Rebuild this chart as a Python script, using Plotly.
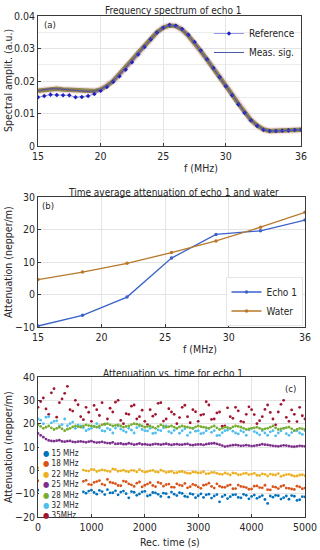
import plotly.graph_objects as go

# ---------------- Panel (a): frequency spectrum ----------------
freq_a = [15, 15.5, 16, 16.5, 17, 17.5, 18, 18.5, 19, 19.5, 20, 20.5, 21, 21.5, 22,
          22.5, 23, 23.5, 24, 24.5, 25, 25.5, 26, 26.5, 27, 27.5, 28, 28.5, 29, 29.5,
          30, 30.5, 31, 31.5, 32, 32.5, 33, 33.5, 34, 34.5, 35, 35.5, 36]
meas_sig = [0.0170, 0.0173, 0.0176, 0.0176, 0.0174, 0.0173, 0.0171, 0.0169, 0.0168, 0.0169,
            0.0174, 0.0185, 0.0200, 0.0220, 0.0242, 0.0265, 0.0287, 0.0308, 0.0330, 0.0350,
            0.0364, 0.0371, 0.0369, 0.0358, 0.0340, 0.0318, 0.0292, 0.0266, 0.0240, 0.0213,
            0.0185, 0.0158, 0.0130, 0.0103, 0.0080, 0.0063, 0.0051, 0.0046, 0.0046, 0.0047,
            0.0048, 0.0049, 0.0050]
reference = [0.0150, 0.0154, 0.0158, 0.0157, 0.0156, 0.0156, 0.0150, 0.0151, 0.0154, 0.0160,
             0.0170, 0.0182, 0.0198, 0.0215, 0.0235, 0.0258, 0.0282, 0.0305, 0.0328, 0.0349,
             0.0364, 0.0372, 0.0370, 0.0360, 0.0342, 0.0320, 0.0294, 0.0267, 0.0240, 0.0212,
             0.0184, 0.0156, 0.0128, 0.0102, 0.0079, 0.0062, 0.0050, 0.0046, 0.0046, 0.0047,
             0.0048, 0.0049, 0.0050]

# ---------------- Panel (b): time-average attenuation ----------------
freq_b = [15, 18.5, 22, 25.5, 29, 32.5, 36]
echo1_att = [-9.7, -6.4, -0.8, 11.2, 18.5, 19.6, 22.9]
water_att = [4.6, 6.9, 9.6, 12.9, 16.5, 20.7, 25.3]

# ---------------- Panel (c): attenuation vs time ----------------
rec_time = [0, 100, 200, 300, 400, 500, 600, 700, 800, 900, 1000, 1100, 1200, 1300, 1400,
            1500, 1600, 1700, 1800, 1900, 2000, 2100, 2200, 2300, 2400, 2500, 2600, 2700,
            2800, 2900, 3000, 3100, 3200, 3300, 3400, 3500, 3600, 3700, 3800, 3900, 4000,
            4100, 4200, 4300, 4400, 4500, 4600, 4700, 4800, 4900, 5000]
rec_time_b = [50, 150, 250, 350, 450, 550, 650, 750, 850, 950, 1050, 1150, 1250, 1350, 1450,
              1550, 1650, 1750, 1850, 1950, 2050, 2150, 2250, 2350, 2450, 2550, 2650, 2750,
              2850, 2950, 3050, 3150, 3250, 3350, 3450, 3550, 3650, 3750, 3850, 3950, 4050,
              4150, 4250, 4350, 4450, 4550, 4650, 4750, 4850, 4950]
att_15 = [-8.5, -9.2, -7.9, -9.6, -8.8, -9.4, -8.2, -9.0, -8.7, -9.8, -8.5, -10.2, -9.1, -8.3,
          -9.6, -10.5, -8.9, -11.8, -9.4, -10.1, -9.0, -10.6, -9.7, -11.2, -10.0, -9.3, -10.8,
          -9.9, -11.4, -10.3, -10.9, -11.6, -10.2, -11.0, -13.5, -10.6, -11.3, -10.4, -11.8,
          -10.7, -11.2, -12.0, -10.8, -14.2, -11.5, -10.9, -11.7, -12.4, -11.1, -12.6, -11.4]
att_15b = [-9.6, -8.1, -10.3, -8.4, -9.9, -8.0, -9.3, -10.1, -9.2, -8.9, -9.5, -8.6, -10.4,
           -9.7, -8.8, -9.3, -10.0, -9.1, -10.7, -9.2, -11.0, -9.5, -10.3, -9.8, -11.5, -10.2,
           -9.6, -11.1, -10.0, -11.7, -10.1, -10.5, -11.9, -10.4, -11.3, -12.1, -10.5, -11.6,
           -10.3, -12.2, -10.6, -11.4, -12.5, -11.0, -10.7, -12.3, -11.0, -10.8, -12.9, -11.3]
att_18 = [-4.5, -5.2, -3.8, -5.0, -4.2, -5.6, -4.4, -5.1, -5.5, -4.3, -6.2, -4.8, -5.9, -3.9,
          -5.4, -6.5, -4.6, -5.8, -6.9, -5.0, -6.4, -5.3, -7.0, -5.6, -6.1, -7.2, -5.8, -6.6,
          -7.5, -6.0, -7.1, -6.4, -5.5, -7.6, -6.8, -7.3, -6.2, -7.8, -6.9, -7.4, -8.0, -6.7,
          -7.5, -8.3, -7.0, -7.8, -6.5, -7.7, -8.2, -7.1, -7.6]
att_18b = [-4.8, -4.0, -5.4, -4.6, -5.3, -3.9, -4.9, -5.8, -4.7, -6.0, -5.2, -4.4, -6.3, -5.1,
           -5.7, -6.6, -4.9, -6.2, -5.5, -7.1, -5.9, -6.5, -5.2, -6.8, -5.9, -7.3, -6.3, -5.6,
           -7.0, -6.4, -7.7, -6.1, -6.9, -5.8, -7.2, -6.6, -7.9, -6.3, -7.1, -8.1, -6.8, -7.4,
           -6.4, -8.4, -7.2, -6.9, -7.6, -8.0, -6.8, -7.9]
att_22 = [1.0, 0.6, 1.2, 0.4, 0.9, 0.2, 0.7, 0.1, 0.5, -0.2, 0.4, -0.5, 0.2, -0.3, 0.6, -0.4,
          0.1, -0.6, -0.1, 0.3, -0.8, -0.2, -0.6, 0.1, -0.9, -0.4, -1.0, -0.5, -1.2, -0.7,
          -1.1, -0.6, -1.4, -0.9, -1.6, -1.1, -2.0, -1.3, -1.8, -1.2, -1.6, -2.1, -1.5, -2.4,
          -1.9, -1.4, -2.2, -1.7, -2.5, -2.0, -2.3]
att_22b = [0.8, 0.9, 0.5, 0.7, 0.3, 0.5, 0.0, 0.4, 0.1, -0.3, 0.3, -0.1, 0.0, -0.5, 0.4, -0.2,
           -0.4, 0.0, -0.7, -0.3, -0.5, 0.0, -0.8, -0.3, -0.7, -1.1, -0.6, -0.9, -1.3, -0.8,
           -1.0, -1.5, -0.9, -1.3, -1.7, -1.5, -1.1, -1.9, -1.4, -1.8, -1.3, -2.2, -1.7, -1.6,
           -2.0, -2.6, -1.8, -2.1, -2.4, -1.9]
att_25 = [15.8, 14.2, 12.8, 12.5, 12.9, 12.3, 12.6, 12.1, 12.4, 12.0, 12.5, 11.9, 12.2, 11.7,
          12.0, 11.4, 11.2, 11.6, 11.0, 11.5, 11.2, 10.9, 11.3, 11.0, 11.4, 10.9, 11.2, 11.0,
          11.3, 10.8, 11.1, 10.9, 11.4, 11.6, 11.0, 10.2, 10.6, 10.9, 10.5, 10.8, 10.4, 10.7,
          11.2, 10.9, 10.5, 10.3, 10.7, 10.4, 10.1, 10.5, 10.3]
att_25b = [15.0, 13.4, 12.6, 12.7, 12.4, 12.5, 12.2, 12.3, 12.2, 12.3, 12.1, 12.0, 11.9, 11.6,
           11.3, 11.5, 11.2, 11.3, 11.2, 11.1, 11.0, 11.1, 11.2, 11.2, 11.1, 11.1, 11.0, 11.2,
           10.9, 11.0, 11.1, 11.2, 11.5, 11.3, 10.6, 10.4, 10.8, 10.7, 10.6, 10.6, 10.5, 10.9,
           11.0, 10.7, 10.4, 10.5, 10.6, 10.2, 10.3, 10.4]
att_28 = [19.5, 18.0, 19.0, 17.5, 18.5, 17.0, 18.0, 19.0, 18.5, 19.5, 19.0, 18.5, 19.5, 20.0,
          19.0, 19.5, 18.5, 19.0, 20.0, 19.5, 18.5, 19.0, 18.0, 19.5, 18.5, 19.0, 18.0, 19.0,
          18.5, 18.0, 19.0, 18.5, 18.0, 19.0, 17.5, 18.5, 18.0, 19.0, 18.5, 17.5, 18.0, 18.5,
          17.5, 18.0, 19.0, 17.5, 18.0, 18.5, 17.0, 18.0, 17.5]
att_28b = [18.8, 18.5, 18.2, 18.0, 17.8, 17.6, 18.6, 18.7, 19.0, 19.2, 18.8, 19.0, 19.8, 19.5,
           19.3, 19.0, 18.8, 19.6, 19.8, 19.0, 18.8, 18.5, 18.8, 19.0, 18.7, 18.5, 18.6, 18.7,
           18.2, 18.6, 18.7, 18.3, 18.6, 18.2, 18.0, 18.3, 18.6, 18.8, 18.0, 17.8, 18.2, 18.0,
           17.8, 18.5, 18.2, 17.8, 18.3, 17.8, 17.5, 17.8]
att_32 = [22, 20, 23, 21, 19, 22, 20, 18, 19, 17, 18, 20, 17, 18, 16, 19, 17, 18, 16, 19, 17,
          18, 16, 17, 19, 16, 18, 17, 15, 18, 17, 16, 18, 17, 15, 17, 18, 16, 17, 15, 18, 16,
          17, 15, 17, 16, 18, 15, 17, 16, 17]
att_32b = [21.5, 22.8, 20.3, 21.2, 19.6, 19.1, 20.7, 19.4, 18.2, 17.6, 18.9, 18.3, 16.8, 17.4,
           18.1, 17.7, 16.4, 17.2, 18.3, 17.5, 16.9, 15.8, 17.3, 18.2, 16.6, 17.1, 15.9, 17.8,
           16.2, 16.8, 15.7, 17.0, 16.3, 14.9, 16.1, 17.2, 16.8, 15.6, 16.4, 17.3, 16.6, 15.2,
           16.0, 16.5, 14.8, 16.9, 15.7, 16.2, 17.0, 15.4]
att_35 = [27, 31, 24, 35, 29, 33, 26, 30, 23, 27, 21, 26, 29, 22, 25, 30, 20, 24, 28, 23, 21,
          26, 24, 29, 22, 25, 20, 27, 23, 26, 21, 24, 28, 22, 25, 19, 23, 27, 21, 24, 26, 20,
          23, 28, 22, 25, 30, 21, 24, 27, 22]
att_35b = [29.5, 26.3, 33.2, 22.8, 30.6, 36.0, 25.4, 28.1, 21.7, 24.9, 27.8, 23.5, 19.8, 26.6,
           29.2, 21.4, 24.3, 27.5, 22.0, 25.8, 19.6, 23.2, 28.7, 21.1, 26.4, 24.0, 22.6, 27.9,
           20.4, 25.1, 23.7, 29.4, 21.8, 24.6, 18.9, 26.8, 22.3, 25.5, 20.7, 27.2, 23.9, 21.3,
           26.1, 24.8, 19.5, 28.3, 22.7, 25.9, 20.9, 23.4]
series_names = ["15 MHz", "18 MHz", "22 MHz", "25 MHz", "28 MHz", "32 MHz", "35MHz"]
series_colors = ["#0072BD", "#D95319", "#EDB120", "#7E2F8E", "#77AC30", "#4DBEEE", "#A2142F"]
series_values = [(att_15, att_15b), (att_18, att_18b), (att_22, att_22b), (att_25, att_25b),
                 (att_28, att_28b), (att_32, att_32b), (att_35, att_35b)]

FONT = "Liberation Sans Narrow, DejaVu Sans Condensed, Arial, sans-serif"
TXT = "#262626"
W, H = 320, 550


def px_x(p):
    return p / W


def px_y(p):
    return 1 - p / H


fig = go.Figure()

# --- panel (a) traces
fig.add_trace(go.Scatter(x=freq_a, y=meas_sig, mode="lines", line=dict(color="rgba(225,160,175,0.35)", width=7),
                         showlegend=False, hoverinfo="skip", xaxis="x", yaxis="y"))
fig.add_trace(go.Scatter(x=freq_a, y=meas_sig, mode="lines", line=dict(color="#8e8c50", width=4.5),
                         showlegend=False, hoverinfo="skip", xaxis="x", yaxis="y"))
fig.add_trace(go.Scatter(x=freq_a, y=meas_sig, mode="lines", line=dict(color="#9a6a50", width=2),
                         showlegend=False, hoverinfo="skip", xaxis="x", yaxis="y"))
fig.add_trace(go.Scatter(x=freq_a, y=reference, mode="lines+markers", name="Reference",
                         line=dict(color="#7a7ae8", width=0.8),
                         marker=dict(symbol="diamond", size=3.5, color="#2020c0"),
                         xaxis="x", yaxis="y", legend="legend"))
fig.add_trace(go.Scatter(x=freq_a, y=meas_sig, mode="lines", name="Meas. sig.",
                         line=dict(color="#4a5aa8", width=1),
                         xaxis="x", yaxis="y", legend="legend"))

# --- panel (b) traces
fig.add_trace(go.Scatter(x=freq_b, y=echo1_att, mode="lines+markers", name="Echo 1",
                         line=dict(color="#3a62c8", width=1.3), marker=dict(size=3.5, color="#3a62c8"),
                         xaxis="x2", yaxis="y2", legend="legend2"))
fig.add_trace(go.Scatter(x=freq_b, y=water_att, mode="lines+markers", name="Water",
                         line=dict(color="#b8782a", width=1.3), marker=dict(size=3.5, color="#b8782a"),
                         xaxis="x2", yaxis="y2", legend="legend2"))

# --- panel (c) traces (drawn back to front)
for name, color, (vals, vals_b) in reversed(list(zip(series_names, series_colors, series_values))):
    fig.add_trace(go.Scatter(x=rec_time + rec_time_b, y=vals + vals_b, mode="markers", name=name,
                             marker=dict(size=2.8, color=color), showlegend=False,
                             xaxis="x3", yaxis="y3"))

axis_common = dict(showline=True, mirror=True, linecolor="#3a3a3a", linewidth=0.8,
                   ticks="inside", ticklen=3, tickcolor="#3a3a3a", automargin=False,
                   showgrid=True, gridcolor="#e4e4e4", gridwidth=0.7, zeroline=False,
                   tickfont=dict(family=FONT, size=10.5, color=TXT))

xa = (px_x(38), px_x(301))
xb = (px_x(38), px_x(305))

fig.update_layout(
    width=W, height=H, autosize=False, margin=dict(l=0, r=0, t=0, b=0, pad=0),
    paper_bgcolor="white", plot_bgcolor="white",
    font=dict(family=FONT, size=10, color=TXT),
    xaxis=dict(domain=xa, range=[15, 36], tickvals=[15, 20, 25, 30, 36], anchor="y", **axis_common),
    yaxis=dict(domain=(px_y(146), px_y(16)), range=[0, 0.04], tickvals=[0, 0.01, 0.02, 0.03, 0.04],
               ticktext=["0", "0.01", "0.02", "0.03", "0.04"],
               minor=dict(dtick=0.005, showgrid=True, gridcolor="#ececec", ticks=""),
               anchor="x", **axis_common),
    xaxis2=dict(domain=xb, range=[15, 36], tickvals=[15, 20, 25, 30, 36], anchor="y2", **axis_common),
    yaxis2=dict(domain=(px_y(327), px_y(197)), range=[-10, 30], tickvals=[-10, 0, 10, 20, 30],
                anchor="x2", **axis_common),
    xaxis3=dict(domain=xb, range=[0, 5000], tickvals=[0, 1000, 2000, 3000, 4000, 5000],
                anchor="y3", **axis_common),
    yaxis3=dict(domain=(px_y(517), px_y(377)), range=[-20, 40], tickvals=[-20, -10, 0, 10, 20, 30, 40],
                anchor="x3", **axis_common),
    legend=dict(x=px_x(300), y=px_y(19), xanchor="right", yanchor="top",
                bgcolor="rgba(255,255,255,0)", font=dict(family=FONT, size=10, color=TXT),
                tracegroupgap=0, itemwidth=30),
    legend2=dict(x=px_x(303), y=px_y(326), xanchor="right", yanchor="bottom",
                 bgcolor="white", bordercolor="#d0d0d0", borderwidth=0.5,
                 font=dict(family=FONT, size=10, color=TXT), tracegroupgap=0, itemwidth=30),
)

# white legend box for panel (c)
fig.add_shape(type="rect", xref="paper", yref="paper",
              x0=px_x(39), x1=px_x(82), y0=px_y(516), y1=px_y(447),
              fillcolor="white", line=dict(width=0), layer="above")
legend_c = "<br>".join(f'<span style="color:{c}">●</span> {n}' for n, c in zip(series_names, series_colors))
fig.add_annotation(xref="paper", yref="paper", x=px_x(41), y=px_y(484),
                   xanchor="left", yanchor="middle", align="left", showarrow=False,
                   text=legend_c, font=dict(family=FONT, size=8, color=TXT))

# axis titles
for text, xp, yp in [("f (MHz)", 201, 168), ("f (MHz)", 200, 349), ("Rec. time (s)", 170, 542)]:
    fig.add_annotation(xref="paper", yref="paper", x=px_x(xp), y=px_y(yp), xanchor="center",
                       yanchor="middle", showarrow=False, text=text,
                       font=dict(family=FONT, size=10.5, color=TXT))
for text, yp in [("Spectral amplit. (a.u.)", 81), ("Attenuation (nepper/m)", 262),
                 ("Attenuation (nepper/m)", 447)]:
    fig.add_annotation(xref="paper", yref="paper", x=px_x(8), y=px_y(yp), xanchor="center",
                       yanchor="middle", showarrow=False, text=text, textangle=-90,
                       font=dict(family=FONT, size=10.5, color=TXT))

# titles and panel labels
titles = [("Frequency spectrum of echo 1", 10), ("Time average attenuation of echo 1 and water", 192),
          ("Attenuation vs. time for echo 1", 373)]
for text, yp in titles:
    fig.add_annotation(xref="paper", yref="paper", x=px_x(173), y=px_y(yp), xanchor="center",
                       yanchor="middle", showarrow=False, text=text,
                       font=dict(family=FONT, size=10, color=TXT))
for text, xp, yp in [("(a)", 50, 24), ("(b)", 48, 206), ("(c)", 290, 388)]:
    fig.add_annotation(xref="paper", yref="paper", x=px_x(xp), y=px_y(yp), xanchor="center",
                       yanchor="middle", showarrow=False, text=text,
                       font=dict(family=FONT, size=9.5, color=TXT))

fig.write_html("out.html", config={"displayModeBar": False},
               post_script="document.body.style.margin='0';")
